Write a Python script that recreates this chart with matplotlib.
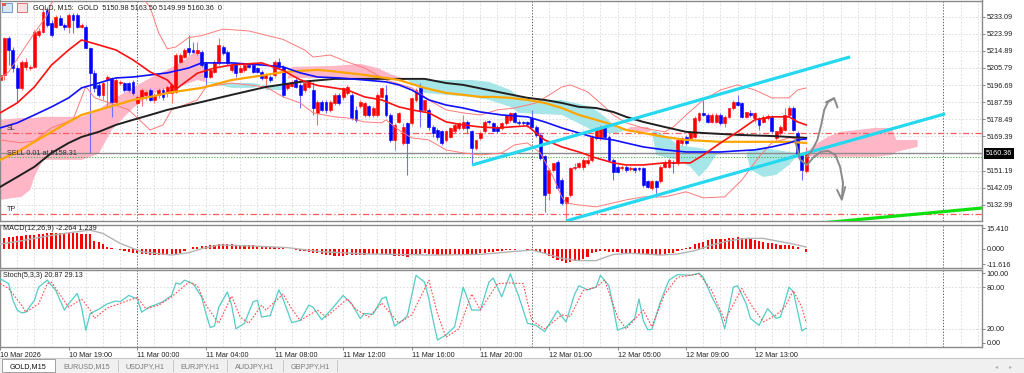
import matplotlib.pyplot as plt
import matplotlib.patches as mpatches
import matplotlib.transforms as mtransforms
import numpy as np

plt.rcParams['font.family'] = ['Liberation Sans', 'DejaVu Sans']

# GOLD M15 candles, bar 0 = 10 Mar 15:00
opens = [
    5199.4, 5202.1, 5221.6, 5215.4, 5205.7, 5195.0, 5206.5, 5206.0, 5206.5, 5223.4,
    5225.2, 5236.7, 5229.6, 5227.8, 5232.2, 5228.7, 5227.8, 5234.0, 5234.0, 5227.8,
    5227.8, 5216.3, 5203.0, 5196.8, 5191.5, 5199.4, 5200.3, 5187.9, 5197.7, 5197.7,
    5197.7, 5198.6, 5187.0, 5190.6, 5191.5, 5194.1, 5188.8, 5191.5, 5194.1, 5192.4,
    5192.4, 5193.2, 5209.2, 5211.9, 5216.3, 5215.4, 5213.6, 5214.5, 5208.3, 5201.2,
    5203.9, 5208.3, 5217.2, 5214.5, 5204.8, 5208.3, 5203.9, 5204.8, 5207.4, 5207.4,
    5205.7, 5203.9, 5200.3, 5201.2, 5202.1, 5209.2, 5206.5, 5195.0, 5196.0, 5199.4,
    5196.8, 5194.1, 5195.9, 5194.1, 5181.7, 5187.9, 5187.9, 5183.5, 5187.0, 5191.5,
    5190.6, 5192.4, 5191.5, 5183.5, 5185.3, 5180.8, 5185.3, 5180.8, 5180.8, 5190.6,
    5191.5, 5180.8, 5167.5, 5177.3, 5165.8, 5176.4, 5176.4, 5188.8, 5195.0, 5183.5,
    5183.5, 5174.6, 5172.9, 5172.0, 5167.5, 5169.3, 5172.0, 5173.7, 5173.7, 5177.3,
    5172.0, 5163.1, 5168.4, 5172.0, 5177.6, 5176.4, 5174.6, 5173.7, 5176.4, 5178.2,
    5181.7, 5177.3, 5176.9, 5176.8, 5179.1, 5174.6, 5170.2, 5158.7, 5139.2, 5151.6,
    5156.0, 5146.3, 5133.8, 5138.3, 5152.5, 5153.3, 5153.3, 5155.1, 5156.9, 5168.4,
    5168.4, 5174.6, 5169.3, 5156.9, 5153.3, 5152.5, 5153.3, 5152.0, 5152.5, 5152.5,
    5152.5, 5145.4, 5141.8, 5145.4, 5145.4, 5153.3, 5153.3, 5156.0, 5155.1, 5165.8,
    5169.3, 5168.4, 5169.3, 5178.2, 5181.7, 5180.8, 5177.3, 5177.3, 5180.8, 5176.4,
    5179.9, 5184.4, 5187.9, 5187.0, 5179.9, 5181.7, 5179.1, 5179.1, 5177.3, 5179.1,
    5179.9, 5168.4, 5171.1, 5172.9, 5180.8, 5184.4, 5171.1, 5159.6, 5150.98]
highs = [
    5203.9, 5222.5, 5223.0, 5217.2, 5207.4, 5210.0, 5211.0, 5207.5, 5226.0, 5226.9,
    5237.6, 5238.5, 5231.4, 5234.0, 5234.0, 5229.6, 5234.9, 5234.9, 5234.9, 5229.6,
    5228.7, 5217.2, 5204.8, 5198.6, 5198.6, 5202.1, 5201.2, 5200.3, 5199.4, 5198.6,
    5198.6, 5199.4, 5191.5, 5195.0, 5194.1, 5195.0, 5192.4, 5195.0, 5195.0, 5196.8,
    5197.7, 5213.6, 5213.6, 5216.3, 5223.4, 5219.8, 5219.8, 5215.4, 5209.2, 5205.7,
    5210.1, 5221.6, 5218.1, 5215.4, 5208.3, 5209.2, 5207.4, 5208.3, 5208.3, 5208.3,
    5206.5, 5204.8, 5203.0, 5202.1, 5210.1, 5211.0, 5207.4, 5197.7, 5199.4, 5200.3,
    5197.7, 5198.6, 5199.4, 5198.6, 5188.8, 5188.8, 5188.8, 5188.8, 5192.4, 5192.4,
    5195.9, 5196.8, 5192.4, 5185.3, 5188.8, 5187.9, 5186.2, 5185.3, 5192.4, 5195.9,
    5196.8, 5181.7, 5176.4, 5182.6, 5176.4, 5177.3, 5190.6, 5195.0, 5197.7, 5189.0,
    5184.4, 5175.5, 5173.7, 5172.9, 5172.9, 5174.6, 5176.4, 5177.3, 5180.8, 5178.2,
    5172.9, 5167.5, 5172.0, 5178.2, 5178.2, 5177.3, 5175.5, 5177.3, 5181.0, 5182.6,
    5182.6, 5178.2, 5177.8, 5177.8, 5183.5, 5175.5, 5171.1, 5159.6, 5152.5, 5155.1,
    5156.9, 5147.1, 5137.4, 5153.3, 5155.1, 5156.0, 5157.8, 5158.7, 5170.2, 5174.6,
    5175.5, 5175.5, 5170.2, 5157.8, 5154.2, 5154.2, 5154.2, 5153.7, 5153.3, 5153.3,
    5153.3, 5146.3, 5146.3, 5146.3, 5154.2, 5156.9, 5157.8, 5156.9, 5168.4, 5169.3,
    5170.2, 5172.0, 5180.0, 5182.6, 5189.0, 5181.7, 5181.7, 5181.7, 5181.7, 5180.8,
    5184.4, 5188.8, 5191.5, 5187.9, 5182.6, 5183.5, 5182.6, 5179.9, 5180.8, 5181.2,
    5180.8, 5172.0, 5175.5, 5184.4, 5185.3, 5185.3, 5172.0, 5160.4, 5163.50]
lows = [
    5198.6, 5199.4, 5207.4, 5203.9, 5187.0, 5194.1, 5204.8, 5204.8, 5205.7, 5222.5,
    5224.3, 5227.8, 5222.5, 5226.9, 5228.7, 5226.0, 5224.3, 5224.3, 5226.9, 5226.9,
    5216.3, 5160.4, 5193.2, 5190.6, 5188.8, 5185.3, 5179.9, 5187.0, 5196.8, 5193.2,
    5193.2, 5191.5, 5186.2, 5185.3, 5188.8, 5188.0, 5187.0, 5190.0, 5188.8, 5190.6,
    5187.0, 5192.4, 5208.3, 5211.0, 5212.7, 5213.6, 5212.7, 5206.5, 5196.8, 5200.3,
    5203.0, 5207.4, 5212.7, 5207.4, 5203.9, 5201.2, 5203.0, 5203.9, 5205.7, 5203.0,
    5203.0, 5199.4, 5195.0, 5198.6, 5201.2, 5205.7, 5190.6, 5194.1, 5195.9, 5195.0,
    5184.4, 5193.2, 5195.0, 5180.8, 5175.5, 5183.0, 5181.7, 5182.6, 5186.2, 5186.2,
    5188.8, 5191.5, 5178.2, 5177.3, 5184.4, 5179.9, 5179.9, 5179.9, 5179.9, 5189.7,
    5179.9, 5166.6, 5162.2, 5176.4, 5164.9, 5148.9, 5175.5, 5187.9, 5174.6, 5182.6,
    5172.9, 5169.3, 5167.5, 5164.9, 5166.6, 5168.4, 5171.1, 5172.9, 5172.9, 5171.1,
    5154.2, 5162.2, 5167.5, 5171.1, 5176.0, 5172.0, 5171.1, 5172.9, 5175.5, 5177.3,
    5176.4, 5175.5, 5175.5, 5174.6, 5173.7, 5169.3, 5156.9, 5129.4, 5135.6, 5150.7,
    5140.9, 5132.9, 5125.0, 5137.4, 5151.6, 5152.5, 5151.6, 5154.2, 5156.0, 5167.5,
    5167.5, 5168.4, 5156.0, 5146.3, 5149.8, 5151.6, 5150.7, 5151.2, 5149.8, 5151.2,
    5142.7, 5141.8, 5140.9, 5137.4, 5144.5, 5152.5, 5152.5, 5149.8, 5154.2, 5164.9,
    5164.9, 5167.5, 5168.4, 5177.3, 5180.0, 5176.4, 5176.4, 5176.4, 5175.5, 5174.6,
    5179.1, 5183.5, 5185.3, 5179.1, 5179.1, 5179.9, 5177.3, 5172.9, 5176.4, 5178.2,
    5171.1, 5167.5, 5170.2, 5172.0, 5179.9, 5172.0, 5157.8, 5146.3, 5149.99]
closes = [
    5202.1, 5221.6, 5215.4, 5205.7, 5195.0, 5209.2, 5209.2, 5206.5, 5225.2, 5225.7,
    5235.8, 5228.7, 5223.4, 5233.1, 5228.7, 5227.8, 5234.0, 5231.4, 5227.8, 5228.7,
    5216.3, 5203.0, 5195.0, 5191.5, 5197.7, 5201.2, 5187.9, 5199.4, 5198.6, 5194.1,
    5194.1, 5192.4, 5190.6, 5194.1, 5193.2, 5188.8, 5191.5, 5194.1, 5190.6, 5195.9,
    5196.8, 5212.7, 5212.7, 5215.4, 5214.5, 5214.5, 5215.4, 5207.4, 5201.2, 5204.8,
    5209.2, 5218.1, 5213.6, 5208.3, 5207.4, 5203.0, 5205.7, 5207.4, 5206.5, 5203.9,
    5203.9, 5200.3, 5202.1, 5199.4, 5209.2, 5206.5, 5191.5, 5197.7, 5198.6, 5195.9,
    5191.5, 5197.7, 5198.6, 5184.4, 5187.9, 5183.5, 5183.5, 5187.9, 5191.5, 5187.0,
    5195.0, 5195.9, 5179.1, 5178.2, 5187.9, 5187.0, 5180.8, 5184.4, 5191.5, 5195.0,
    5180.8, 5167.5, 5175.5, 5181.7, 5174.6, 5165.8, 5189.7, 5194.1, 5183.5, 5188.8,
    5174.6, 5171.1, 5169.3, 5165.8, 5172.0, 5173.7, 5175.5, 5176.4, 5177.3, 5173.7,
    5163.1, 5167.5, 5171.1, 5177.3, 5176.8, 5172.0, 5172.0, 5176.4, 5180.8, 5181.7,
    5177.3, 5176.4, 5176.4, 5176.0, 5174.6, 5170.2, 5157.8, 5138.3, 5151.6, 5155.1,
    5141.8, 5133.8, 5137.4, 5152.5, 5153.3, 5155.1, 5156.9, 5156.9, 5169.3, 5173.7,
    5174.6, 5169.3, 5156.9, 5150.7, 5150.7, 5153.3, 5151.6, 5152.8, 5151.6, 5151.9,
    5143.6, 5142.7, 5145.4, 5142.7, 5153.3, 5156.0, 5156.9, 5155.1, 5167.5, 5168.4,
    5165.8, 5171.1, 5179.1, 5181.7, 5180.8, 5177.3, 5180.8, 5180.8, 5176.4, 5179.9,
    5184.4, 5187.9, 5186.2, 5179.9, 5182.6, 5180.8, 5181.7, 5175.5, 5179.9, 5180.3,
    5172.0, 5172.0, 5174.6, 5180.8, 5184.4, 5172.9, 5158.7, 5151.6, 5160.36]

# moving averages (bar index, price)
ma_red_idx = [0, 4, 8, 12, 16, 19, 23, 27, 31, 35, 39, 41, 46, 50, 54, 61, 66, 70, 74, 77,
              81, 85, 89, 93, 96, 100, 104, 108, 112, 116, 119, 123, 125, 127, 131, 135, 139,
              143, 146, 150, 155, 161, 164, 168, 172, 176, 180, 184, 186, 188]
ma_red = [5181.9, 5187.2, 5195.7, 5207.4, 5215.4, 5220.7, 5218.1, 5215.4, 5210.1, 5203.7,
          5199.4, 5194.5, 5203.0, 5205.8, 5207.4, 5208.5, 5204.5, 5199.5, 5196.5, 5195.5,
          5194.1, 5190.4, 5188.8, 5185.1, 5183.5, 5181.9, 5177.1, 5175.5, 5174.4, 5173.9,
          5174.4, 5175.0, 5171.2, 5167.5, 5163.8, 5161.1, 5157.9, 5155.3, 5154.2, 5154.2,
          5155.3, 5155.3, 5159.5, 5165.9, 5171.8, 5178.2, 5179.8, 5179.8, 5177.1, 5175.5]
ma_blue_idx = [0, 4, 8, 12, 16, 19, 23, 27, 31, 35, 39, 44, 47, 54, 61, 66, 70, 74, 79, 85,
               90, 93, 96, 100, 104, 108, 112, 117, 123, 127, 131, 135, 139, 143, 146, 150,
               155, 160, 168, 172, 176, 180, 184, 186, 188]
ma_blue = [5173.9, 5176.6, 5180.8, 5185.1, 5189.9, 5195.2, 5197.8, 5200.5, 5201.0, 5202.1,
           5203.2, 5205.8, 5208.5, 5208.5, 5207.4, 5206.4, 5203.2, 5201.0, 5200.5, 5199.4,
           5198.4, 5196.8, 5194.1, 5188.8, 5186.1, 5184.5, 5182.4, 5180.8, 5179.8, 5177.1,
           5173.9, 5171.2, 5168.6, 5167.5, 5165.9, 5163.8, 5162.2, 5161.1, 5161.1, 5161.7,
           5162.2, 5163.8, 5165.9, 5167.5, 5168.1]
ma_orange_idx = [0, 4, 8, 12, 16, 19, 23, 27, 31, 35, 39, 47, 54, 62, 66, 74, 77, 85, 93, 99,
                 104, 108, 112, 115, 119, 123, 127, 131, 135, 139, 143, 146, 150, 155, 160,
                 168, 176, 184, 188]
ma_orange = [5156.9, 5161.1, 5166.5, 5171.8, 5177.1, 5180.8, 5183.5, 5186.1, 5188.8, 5190.4,
             5192.5, 5195.2, 5199.4, 5202.1, 5203.7, 5204.8, 5204.2, 5202.1, 5199.4, 5195.2,
             5192.5, 5191.5, 5190.4, 5190.4, 5189.9, 5188.8, 5187.2, 5184.5, 5180.8, 5178.2,
             5175.5, 5172.8, 5171.2, 5169.1, 5167.5, 5166.5, 5166.5, 5166.5, 5165.9]
ma_black_idx = [0, 4, 8, 12, 16, 19, 23, 27, 31, 35, 39, 47, 54, 62, 70, 78, 85, 99, 104, 108,
                116, 123, 127, 131, 135, 139, 143, 146, 150, 155, 160, 164, 172, 180, 188]
ma_black = [5142.5, 5147.8, 5153.2, 5160.6, 5165.9, 5169.1, 5171.8, 5175.5, 5178.2, 5180.8,
            5183.5, 5187.7, 5191.5, 5195.7, 5198.4, 5200.0, 5200.0, 5200.0, 5197.8, 5196.8,
            5193.1, 5189.9, 5188.8, 5187.2, 5185.1, 5184.5, 5182.4, 5179.8, 5177.1, 5174.4,
            5171.8, 5171.2, 5170.2, 5169.6, 5168.6]

# bollinger bands
bb_up_idx = [0, 2, 8, 11, 12, 16, 22, 28, 33, 35, 37, 39, 41, 44, 47, 52, 58, 66, 71, 73,
             77, 81, 85, 90, 96, 100, 104, 108, 112, 116, 120, 125, 127, 131, 133, 137, 141,
             143, 146, 150, 155, 157, 160, 164, 168, 172, 176, 180, 184, 186, 188]
bb_up = [5200.5, 5203.7, 5224.4, 5234.0, 5240.4, 5248.0, 5252.0, 5250.0, 5244.0, 5238.0,
         5224.4, 5216.0, 5217.0, 5222.0, 5223.0, 5226.5, 5225.5, 5221.0, 5215.4, 5211.6,
         5212.7, 5209.0, 5205.8, 5199.4, 5195.2, 5188.8, 5183.5, 5181.9, 5180.8, 5183.5,
         5184.5, 5187.2, 5189.9, 5195.7, 5196.8, 5193.1, 5185.1, 5180.8, 5176.6, 5173.9,
         5171.8, 5174.4, 5180.8, 5188.8, 5194.1, 5196.8, 5194.1, 5189.9, 5189.9, 5194.1,
         5195.2]
bb_lo_idx = [0, 5, 8, 12, 17, 20, 22, 27, 30, 35, 38, 40, 46, 48, 54, 62, 66, 70, 73, 78,
             81, 85, 89, 90, 93, 96, 100, 104, 108, 112, 117, 120, 123, 126, 129, 131, 132,
             135, 139, 143, 146, 150, 155, 160, 164, 169, 173, 177, 180, 184, 188]
bb_lo = [5167.5, 5166.0, 5167.0, 5174.0, 5178.2, 5196.0, 5190.0, 5186.0, 5183.5, 5172.8,
         5175.5, 5183.5, 5188.8, 5195.7, 5197.8, 5195.7, 5190.4, 5187.2, 5181.9, 5179.8,
         5179.2, 5177.1, 5176.6, 5178.2, 5172.8, 5168.6, 5167.5, 5162.2, 5160.6, 5159.5,
         5160.6, 5164.9, 5165.9, 5160.6, 5147.8, 5137.2, 5134.0, 5132.9, 5131.9, 5134.0,
         5135.6, 5137.2, 5137.2, 5139.9, 5136.7, 5137.2, 5146.2, 5158.5, 5166.0, 5168.6,
         5167.5]

# ichimoku cloud edges (runs 26 bars past the last candle)
cloud_idx = [0, 5, 7, 8, 10, 19, 23, 26, 31, 35, 39, 43, 46, 47, 48, 54, 59, 61, 62, 66,
             67, 68, 78, 84, 88, 91, 95, 99, 104, 110, 114, 119, 121, 125, 131, 138, 141, 144,
             146, 147, 151, 152, 153, 156, 158, 161, 163, 165, 167, 169, 174, 175, 178, 181,
             184, 186, 188, 190, 193, 196, 200, 204, 208, 209, 214]
span_a = [5178.2, 5179.2, 5179.2, 5179.2, 5179.8, 5179.8, 5183.5, 5188.8, 5195.2, 5200.5,
          5204.8, 5210.1, 5215.4, 5214.3, 5198.4, 5195.2, 5195.2, 5197.0, 5194.1, 5194.1,
          5200.0, 5206.4, 5206.9, 5208.0, 5205.8, 5202.6, 5199.4, 5192.5, 5191.5, 5190.4,
          5188.8, 5185.1, 5181.9, 5181.4, 5180.8, 5172.8, 5171.2, 5171.2, 5172.8, 5174.4,
          5174.4, 5172.3, 5159.5, 5157.9, 5156.9, 5153.2, 5147.8, 5152.6, 5159.5, 5160.6,
          5160.6, 5151.6, 5147.8, 5148.9, 5154.2, 5159.5, 5160.6, 5164.9, 5169.1, 5171.8,
          5172.8, 5173.9, 5173.9, 5167.5, 5167.5]
span_b = [5135.6, 5137.2, 5140.9, 5147.8, 5156.9, 5156.9, 5160.1, 5172.8, 5184.5, 5191.5,
          5195.2, 5196.8, 5199.4, 5198.9, 5198.4, 5197.8, 5197.8, 5197.0, 5196.8, 5196.8,
          5200.0, 5200.5, 5200.5, 5199.4, 5199.4, 5199.4, 5199.4, 5199.4, 5199.4, 5199.4,
          5198.4, 5194.1, 5190.4, 5188.8, 5188.8, 5185.1, 5179.8, 5173.9, 5172.8, 5171.8,
          5171.8, 5172.3, 5172.3, 5168.6, 5164.9, 5163.8, 5163.3, 5162.2, 5161.1, 5160.6,
          5160.6, 5162.2, 5163.3, 5162.2, 5161.1, 5160.6, 5159.0, 5158.5, 5158.5, 5158.5,
          5158.5, 5158.5, 5159.5, 5161.1, 5163.8]

# order / price lines
sl_price = 5171.0
bid_price = 5160.36
entry_price = 5158.31
tp_price = 5127.9

# hand drawn objects
chan_up_idx, chan_up = [110.1, 198.25], [5154.2, 5211.7]
chan_lo_idx, chan_lo = [132.0, 220.4], [5124.4, 5181.4]
green_idx, green = [190.0, 232.0], [5123.0, 5131.9]
arrow_up_idx = [188.2, 189.4, 190.6, 191.5, 192.2, 193.1, 194.3]
arrow_up = [5158.5, 5162.2, 5167.5, 5175.5, 5183.5, 5187.7, 5189.3]
head_up_idx, head_up = [192.6, 194.5, 195.3], [5187.5, 5189.8, 5184.8]
arrow_dn_idx = [185.4, 186.6, 188.2, 189.6, 191.3, 193.1, 194.8, 195.9, 196.6, 196.3]
arrow_dn = [5167.5, 5156.9, 5154.2, 5158.0, 5161.1, 5161.7, 5159.5, 5153.2, 5144.6, 5135.8]
head_dn_idx, head_dn = [195.2, 196.3, 197.1], [5140.9, 5135.8, 5142.5]

# MACD(12,26,9)
macd_hist = [
    7.8, 8.2, 8.6, 9.0, 9.3, 9.6, 10.0, 10.3, 10.7, 11.0,
    11.4, 11.6, 11.7, 11.6, 11.5, 11.6, 11.7, 11.6, 11.5, 11.4, 11.2, 10.8,
    6.0, 5.2, 3.5, 1.6, 0.5, -0.5, -1.0, -1.6,
    -2.3, -2.9, -3.5, -3.9, -4.2, -4.5, -4.6, -4.6, -4.5, -4.4,
    -4.2, -4.0, -3.0, -1.8, -0.5, 1.0, 1.6, 2.0, 2.4, 2.8,
    3.0, 3.2, 3.3, 3.3, 3.2, 3.1, 3.0, 2.9, 2.8, 2.6,
    2.4, 2.3, 2.0, 1.6, 1.0, 0.6, 0.3, -0.2, -0.5, -1.0,
    -1.5, -1.9, -2.3, -2.9, -3.5, -4.2, -4.8, -5.1, -5.3, -5.3,
    -5.2, -5.0, -5.0, -4.8, -4.6, -4.4, -4.3, -4.3, -4.2, -4.3,
    -4.3, -4.8, -5.3, -5.5, -5.8, -6.0, -5.0, -4.2, -3.8, -3.5,
    -3.8, -4.1, -4.4, -4.6, -4.8, -4.6, -4.2, -4.0, -4.1, -4.2,
    -4.3, -4.0, -3.5, -3.0, -2.6, -2.3, -2.0, -1.6, -1.3, -1.0,
    -0.8, -0.6, -0.5, -0.7, -1.0, -1.5, -2.5, -3.5, -5.5, -7.3,
    -8.5, -9.6, -10.6, -10.2, -9.4, -8.6, -7.5, -6.0, -3.5, -2.4,
    -1.8, -2.0, -2.3, -2.6, -2.8, -3.0, -3.1, -3.3, -3.5, -3.7,
    -3.9, -4.1, -4.5, -5.0, -4.8, -4.2, -3.5, -3.0, -2.0, -0.8,
    0.5, 1.5, 3.5, 4.4, 5.3, 6.2, 7.0, 7.2, 7.4, 7.6,
    7.8, 7.8, 8.6, 8.0, 7.6, 7.2, 6.6, 6.0, 5.3, 4.6,
    4.0, 3.6, 2.8, 2.8, 2.6, 2.0, 1.0, -0.5, -2.264]
macd_sig_idx = [0, 5, 10, 16, 21, 24, 28, 33, 40, 44, 47, 51, 59, 67, 75, 86, 101, 112, 119,
                124, 127, 131, 135, 139, 143, 147, 150, 154, 158, 162, 166, 170, 174, 178,
                182, 185, 188]
macd_sig = [3.5, 6.0, 9.0, 12.0, 14.0, 11.5, 4.0, -2.3, -4.8, -3.0, 0.0, 2.8, 2.0, 0.8, -2.3,
            -4.0, -4.8, -4.3, -2.3, -1.0, -3.5, -7.3, -9.0, -9.0, -4.3, -3.5, -4.0, -4.8,
            -4.0, -1.5, 2.8, 6.0, 7.8, 7.8, 5.3, 3.5, 1.239]

# Stoch(5,3,3)
st_main_idx = [0, 2, 3, 4, 5, 6, 8, 9, 11, 13, 15, 16, 18, 19, 20, 21, 23, 25, 27, 28,
               30, 32, 33, 35, 36, 38, 40, 41, 42, 43, 45, 47, 48, 49, 50, 51, 53, 54, 55, 57,
               59, 60, 61, 63, 65, 66, 68, 70, 72, 73, 75, 77, 80, 82, 84, 85, 87, 89, 90, 92,
               94, 95, 97, 99, 100, 101, 102, 104, 106, 108, 110, 112, 114, 115, 117, 119, 121,
               123, 125, 127, 130, 132, 134, 135, 137, 139, 140, 142, 143, 144, 146, 148, 149,
               150, 151, 152, 154, 156, 157, 158, 161, 163, 164, 166, 168, 169, 171, 172, 174,
               175, 177, 179, 181, 182, 184, 185, 187, 188]
st_main = [92, 85, 61, 47, 43, 44, 61, 80, 90, 75, 47, 56, 71, 51, 18, 42, 48, 56, 60, 59,
           68, 63, 44, 52, 54, 59, 68, 86, 84, 90, 85, 66, 42, 22, 24, 51, 73, 54, 20, 28,
           59, 61, 37, 39, 76, 63, 29, 32, 54, 51, 33, 46, 68, 56, 35, 42, 41, 63, 66, 24,
           33, 39, 97, 87, 63, 32, 4, 11, 23, 80, 47, 47, 87, 93, 66, 99, 66, 28, 25, 16,
           46, 30, 70, 82, 76, 80, 97, 82, 51, 18, 23, 35, 63, 32, 19, 19, 59, 90, 94, 98,
           97, 100, 94, 66, 42, 20, 80, 82, 56, 35, 25, 49, 35, 37, 80, 73, 17, 20.87]
st_sig_idx = [0, 2, 5, 6, 9, 11, 12, 16, 19, 21, 22, 25, 30, 32, 34, 37, 40, 44, 46, 48,
              51, 54, 56, 58, 61, 62, 66, 68, 70, 74, 76, 81, 83, 86, 89, 93, 96, 100, 102, 104,
              107, 110, 112, 116, 119, 122, 124, 127, 131, 133, 136, 139, 141, 144, 146, 150,
              152, 155, 158, 163, 166, 169, 173, 175, 178, 181, 183, 185, 187, 188]
st_sig = [85, 78, 54, 44, 56, 85, 87, 51, 63, 47, 35, 50, 61, 65, 49, 54, 66, 87, 82, 54,
          28, 67, 37, 28, 54, 47, 70, 49, 32, 47, 37, 63, 48, 37, 57, 28, 40, 90, 42, 8,
          20, 70, 47, 85, 86, 85, 32, 20, 40, 38, 75, 80, 90, 37, 20, 47, 23, 70, 94, 99,
          75, 32, 78, 56, 30, 40, 51, 75, 51, 29.13]

# axis labels
price_ticks = [5233.09, 5223.99, 5214.89, 5205.79, 5196.69, 5187.59, 5178.49, 5169.39,
               5151.19, 5142.09, 5132.99]
macd_ticks = [15.41, 0.0, -11.616]
stoch_ticks = [100, 80, 20, 0]
time_idx = [0, 16, 32, 48, 64, 80, 96, 112, 128, 144, 160, 176]
time_labels = ['10 Mar 2026', '10 Mar 19:00', '11 Mar 00:00', '11 Mar 04:00', '11 Mar 08:00',
               '11 Mar 12:00', '11 Mar 16:00', '11 Mar 20:00', '12 Mar 01:00', '12 Mar 05:00',
               '12 Mar 09:00', '12 Mar 13:00']
day_breaks = [32, 124, 220]
tabs = ['GOLD,M15', 'EURUSD,M15', 'USDJPY,H1', 'EURJPY,H1', 'AUDJPY,H1', 'GBPJPY,H1']

W, H = 1024, 373


def frame(x0, y0, x1, y1):
    # pixel box -> figure fraction
    return [x0 / W, 1 - y1 / H, (x1 - x0) / W, (y1 - y0) / H]


fig = plt.figure(figsize=(W / 100, H / 100), dpi=100)
fig.patch.set_facecolor('white')
ax = fig.add_axes(frame(0, 0.5, 982, 221.5))
am = fig.add_axes(frame(0, 224.5, 982, 267.5))
ast = fig.add_axes(frame(0, 269.5, 982, 346.5))

GRID = dict(color='#d2d2d2', lw=0.5, ls=(0, (2.5, 2.5)), zorder=0.5)


def style(a, ylim, ticks, fmt):
    a.set_xlim(-0.02, 229.0)
    a.set_ylim(*ylim)
    for s in a.spines.values():
        s.set_color('#8a8a8a')
        s.set_linewidth(1.0)
    a.yaxis.tick_right()
    a.set_yticks(ticks)
    a.set_yticklabels([fmt % v for v in ticks])
    a.tick_params(axis='y', length=2.5, width=0.6, color='#707070', labelsize=5.2,
                  pad=1.0, labelcolor='#202020')
    a.set_xticks([])
    for k in range(0, 232, 4):
        if k in day_breaks:
            a.axvline(k, color='#404040', lw=0.6, ls=(0, (1.5, 2)), zorder=0.6)
        else:
            a.axvline(k, **GRID)


style(ax, (5124.10, 5241.71), price_ticks, '%.2f')
style(am, (-14.2, 18.28), macd_ticks, '%.3f')
style(ast, (-5.4, 105.3), stoch_ticks, '%.2f')

for p in price_ticks:
    ax.axhline(p, **GRID)
for v in (80, 20):
    ast.axhline(v, **GRID)

# ---- main panel ----
ca = np.array(cloud_idx, float)
sa = np.array(span_a)
sb = np.array(span_b)
ax.fill_between(ca, sa, sb, where=sa >= sb, interpolate=True, color='#ffb6c6', lw=0, zorder=1)
ax.fill_between(ca, sa, sb, where=sa < sb, interpolate=True, color='#a6e6e8', lw=0, zorder=1)

ax.axhline(sl_price, color='#ff5a5a', lw=0.9, ls=(0, (5, 2, 1, 2)), zorder=1.5)
ax.axhline(tp_price, color='#ff5a5a', lw=0.9, ls=(0, (5, 2, 1, 2)), zorder=1.5)
ax.axhline(entry_price, color='#40b040', lw=0.8, ls=(0, (1, 1.5)), zorder=1.5)
ax.axhline(bid_price, color='#8c8c8c', lw=1.0, zorder=1.6)

idx = np.arange(len(opens))
o = np.array(opens)
c = np.array(closes)
up = c >= o
col = np.where(up, '#ff0000', '#0000ff')
wick = np.where(up, '#ff7070', '#7070ff')
ax.vlines(idx, lows, highs, colors=wick, lw=0.8, zorder=2)
body = np.where(np.abs(c - o) < 0.3, 0.3, c - o)
ax.bar(idx, body, bottom=o, width=0.68, color=col, edgecolor=col, lw=0.4, zorder=2.2)

ax.plot(bb_up_idx, bb_up, color='#ff7a7a', lw=0.7, zorder=3)
ax.plot(bb_lo_idx, bb_lo, color='#ff7a7a', lw=0.7, zorder=3)
ax.plot(ma_black_idx, ma_black, color='#202020', lw=1.4, zorder=3.2)
ax.plot(ma_orange_idx, ma_orange, color='#ffa500', lw=1.6, zorder=3.3)
ax.plot(ma_blue_idx, ma_blue, color='#1010ff', lw=1.2, zorder=3.4)
ax.plot(ma_red_idx, ma_red, color='#ff1010', lw=1.2, zorder=3.5)

ax.plot(chan_up_idx, chan_up, color='#25d8f0', lw=2.3, solid_capstyle='butt', zorder=4)
ax.plot(chan_lo_idx, chan_lo, color='#25d8f0', lw=2.3, solid_capstyle='butt', zorder=4)
ax.plot(green_idx, green, color='#10e010', lw=2.3, zorder=4)
for xs, ys in ((arrow_up_idx, arrow_up), (head_up_idx, head_up),
               (arrow_dn_idx, arrow_dn), (head_dn_idx, head_dn)):
    ax.plot(xs, ys, color='#8a8a8a', lw=1.4, solid_capstyle='round', zorder=4.5)

blend = mtransforms.blended_transform_factory(ax.transAxes, ax.transData)
ax.text(1.004, bid_price, '%.2f' % bid_price, transform=blend, fontsize=5.2, color='white',
        va='center', ha='left', clip_on=False,
        bbox=dict(boxstyle='square,pad=0.25', fc='black', ec='none'), zorder=6)
ax.text(1.5, sl_price + 0.5, 'SL', fontsize=5.2, color='#303030', va='bottom', zorder=6)
ax.text(1.5, bid_price - 1.9, 'SELL 0.01 at %.2f' % entry_price, fontsize=5.2,
        color='#303030', va='bottom', zorder=6)
ax.text(1.5, tp_price + 0.5, 'TP', fontsize=5.2, color='#303030', va='bottom', zorder=6)

# ---- MACD ----
hist = np.array(macd_hist)
am.bar(idx, hist, width=0.5, color='#ff0000', lw=0, zorder=2)
am.plot(macd_sig_idx, macd_sig, color='#b4b4b4', lw=1.0, zorder=3)
am.text(0.6, 15.6, 'MACD(12,26,9) -2.264 1.239', fontsize=5.2, color='#202020',
        va='center', zorder=5)

# ---- Stochastic ----
ast.plot(st_main_idx, st_main, color='#55cbc6', lw=0.9, zorder=3)
ast.plot(st_sig_idx, st_sig, color='#ff4a4a', lw=0.8, ls=(0, (1.5, 1.5)), zorder=3)
ast.text(0.6, 96.5, 'Stoch(5,3,3) 20.87 29.13', fontsize=5.2, color='#202020',
         va='center', zorder=5)
ast.set_xticks(time_idx)
ast.set_xticklabels(time_labels, ha='left')
ast.tick_params(axis='x', length=2.5, width=0.6, color='#707070', labelsize=5.2, pad=1.5,
                labelcolor='#202020')

# ---- header and tab bar ----
fig.text(33 / W, 1 - 7.5 / H, 'GOLD, M15:  GOLD  5150.98 5163.50 5149.99 5160.36  0',
         fontsize=5.2, color='#202020', va='center')
fig.add_artist(mpatches.Rectangle((2 / W, 1 - 12 / H), 10 / W, 9 / H, transform=fig.transFigure,
                                  fc='#d9e7f5', ec='#5b8fc8', lw=0.6))
fig.add_artist(mpatches.Rectangle((2 / W, 1 - 6 / H), 4 / W, 3 / H, transform=fig.transFigure,
                                  fc='#e05a5a', ec='none'))
fig.add_artist(mpatches.Rectangle((17 / W, 1 - 12 / H), 10 / W, 9 / H, transform=fig.transFigure,
                                  fc='#fbe3e3', ec='#d86060', lw=0.6))

fig.add_artist(mpatches.Rectangle((0, 0), 1, 15 / H, transform=fig.transFigure,
                                  fc='#f0f0f0', ec='none'))
fig.add_artist(plt.Line2D([0, 1], [15 / H, 15 / H], transform=fig.transFigure,
                          color='#c8c8c8', lw=0.8))
fig.add_artist(mpatches.Rectangle((2 / W, 1 / H), 53 / W, 13 / H, transform=fig.transFigure,
                                  fc='white', ec='#a0a0a0', lw=0.7))
tab_edges = [2, 55, 118, 173, 227, 283, 337]
for k, name in enumerate(tabs):
    cx = (tab_edges[k] + tab_edges[k + 1]) / 2
    fig.text(cx / W, 6.5 / H, name, fontsize=5.2, ha='center', va='center',
             color='#101010' if k == 0 else '#7a7a7a')
    if k > 0:
        fig.add_artist(plt.Line2D([tab_edges[k + 1] / W] * 2, [2 / H, 13 / H],
                                  transform=fig.transFigure, color='#c8c8c8', lw=0.7))
fig.text(997 / W, 6.5 / H, '\u25c2', fontsize=4.5, color='#b0b0b0', ha='center', va='center',
         family=['DejaVu Sans'])
fig.text(1011 / W, 6.5 / H, '\u25b8', fontsize=4.5, color='#b0b0b0', ha='center', va='center',
         family=['DejaVu Sans'])

fig.savefig('out.png', dpi=100, facecolor='white')
